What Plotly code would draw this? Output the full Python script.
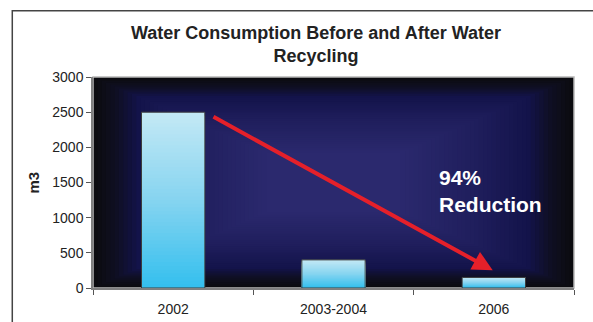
import plotly.graph_objects as go

# Data
categories = ["2002", "2003-2004", "2006"]
consumption = [2500, 400, 150]
y_ticks = [0, 500, 1000, 1500, 2000, 2500, 3000]
title_text = "Water Consumption Before and After Water<br>Recycling"
reduction_text = "94%<br>Reduction"

FONT = "Liberation Sans, Arial, sans-serif"


def hex_to_rgb(h):
    h = h.lstrip("#")
    return tuple(int(h[i:i + 2], 16) for i in (0, 2, 4))


def lerp_color(stops, t):
    """Piecewise-linear colour interpolation over (position, hex) stops."""
    for (p0, c0), (p1, c1) in zip(stops, stops[1:]):
        if t <= p1:
            f = 0 if p1 == p0 else (t - p0) / (p1 - p0)
            a, b = hex_to_rgb(c0), hex_to_rgb(c1)
            return "rgb(%d,%d,%d)" % tuple(round(a[i] + (b[i] - a[i]) * f) for i in range(3))
    return "rgb(%d,%d,%d)" % hex_to_rgb(stops[-1][1])


fig = go.Figure()

# Bars with a vertical gradient: tallest slice first, shorter ones painted over it
N_SEG = 48
bar_stops = [(0.0, "#33bfee"), (0.5, "#86d4f0"), (1.0, "#c4e9f5")]
for k in range(N_SEG - 1, -1, -1):
    frac = (k + 1) / N_SEG
    fig.add_trace(go.Bar(
        x=categories,
        y=[v * frac for v in consumption],
        marker=dict(color=lerp_color(bar_stops, (k + 0.5) / N_SEG), line=dict(width=0)),
        hoverinfo="skip",
        showlegend=False,
    ))

# Outline of each bar
fig.add_trace(go.Bar(
    x=categories,
    y=consumption,
    marker=dict(color="rgba(0,0,0,0)", line=dict(color="#3c3c3c", width=1)),
    hovertemplate="%{x}: %{y} m3<extra></extra>",
    showlegend=False,
))

# Plot-area background: rectangular "from centre" gradient
shapes = []
bg_stops = [(0.0, "#0b0b0f"), (0.12, "#0f0f22"), (0.25, "#13134a"),
            (0.55, "#1f1e5c"), (1.0, "#2b296e")]
N_BG = 40
for k in range(N_BG + 1):
    s = k / N_BG
    d = 0.36 * s
    shapes.append(dict(
        type="rect", xref="x domain", yref="y domain",
        x0=d, x1=1 - d, y0=d, y1=1 - d,
        fillcolor=lerp_color(bg_stops, s), line=dict(width=0), layer="below",
    ))

# Light frame round the plot area
shapes.append(dict(type="rect", xref="x domain", yref="y domain",
                   x0=0, x1=1, y0=0, y1=1,
                   line=dict(color="#b8b8b8", width=1.5), layer="below"))

# Outer chart frame (runs off the right and bottom of the page)
shapes.append(dict(type="rect", xref="paper", yref="paper",
                   x0=-0.1678, x1=1.3, y0=-0.4, y1=1.3142,
                   line=dict(color="#444444", width=1.5), fillcolor="rgba(0,0,0,0)",
                   layer="below"))

annotations = [
    # Title
    dict(text="<b>" + title_text + "</b>", xref="paper", yref="paper", x=0.4626, y=1.156,
         xanchor="center", yanchor="middle", showarrow=False,
         font=dict(family=FONT, size=18, color="#222222")),
    # Y-axis title
    dict(text="<b>m3</b>", xref="paper", yref="paper", x=-0.1227, y=0.5,
         xanchor="center", yanchor="middle", textangle=-90, showarrow=False,
         font=dict(family=FONT, size=15, color="#222222")),
    # Reduction arrow
    dict(text="", x=1.993, y=252, ax=0.242, ay=2445, xref="x", yref="y",
         axref="x", ayref="y", showarrow=True, arrowhead=2, arrowsize=1,
         arrowwidth=4, arrowcolor="#e5202a", standoff=0, startstandoff=0),
    # Reduction label
    dict(text="<b>" + reduction_text + "</b>", xref="paper", yref="paper",
         x=0.716, y=0.46, xanchor="left", yanchor="middle", align="left",
         showarrow=False, font=dict(family=FONT, size=21, color="#ffffff")),
]

fig.update_layout(
    width=593, height=322,
    margin=dict(l=93, r=19, t=77, b=34, autoexpand=False),
    paper_bgcolor="#ffffff",
    plot_bgcolor="#0b0b0f",
    barmode="overlay",
    bargap=0.605,
    shapes=shapes,
    annotations=annotations,
    font=dict(family=FONT, size=14, color="#222222"),
    showlegend=False,
)

fig.update_xaxes(
    type="category", range=[-0.5, 2.5], tickson="boundaries",
    ticks="outside", ticklen=5, tickcolor="#555555", tickwidth=1,
    ticklabelstandoff=7, automargin=False,
    showline=True, linecolor="#808080", linewidth=1.5,
    showgrid=False, zeroline=False,
    tickfont=dict(family=FONT, size=14, color="#222222"),
)
fig.update_yaxes(
    range=[0, 3000], tickvals=y_ticks, automargin=False,
    ticks="outside", ticklen=5, tickcolor="#555555", tickwidth=1,
    showline=True, linecolor="#808080", linewidth=1.5,
    showgrid=False, zeroline=False,
    tickfont=dict(family=FONT, size=14, color="#222222"),
)

fig.write_html("out.html")
